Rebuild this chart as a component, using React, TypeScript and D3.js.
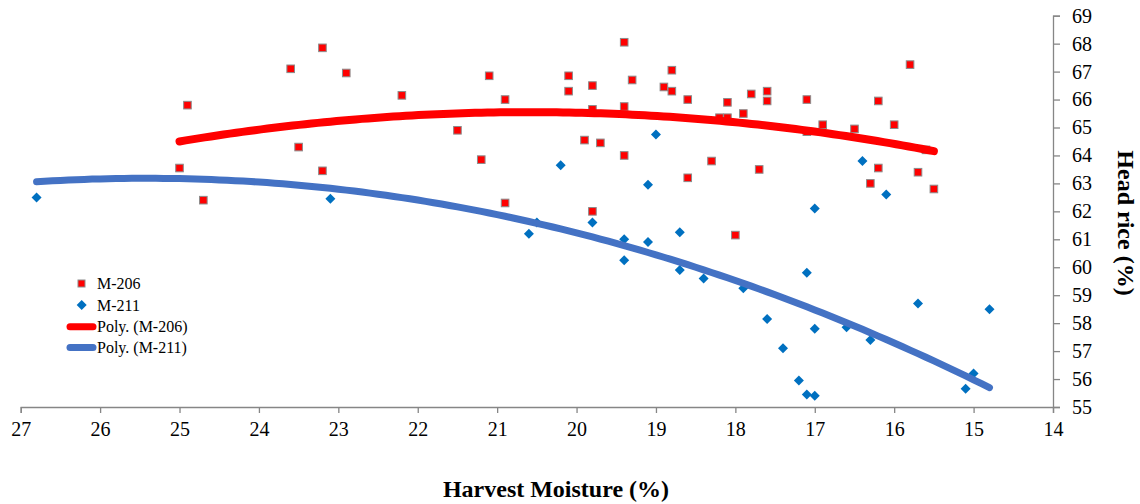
import { useEffect, useRef } from "react";
import * as d3 from "d3";

// M-206 (red squares): [harvest moisture, head rice]
const m206: [number, number][] = [
  [25.0, 63.55], [24.9, 65.8], [24.7, 62.4], [23.6, 67.1], [23.5, 64.3],
  [23.2, 67.85], [23.2, 63.45], [22.9, 66.95], [22.2, 66.15], [21.5, 64.9],
  [21.2, 63.85], [21.1, 66.85], [20.9, 66.0], [20.9, 62.3], [20.1, 66.85],
  [20.1, 66.3], [19.9, 64.55], [19.8, 66.5], [19.8, 65.65], [19.8, 62.0],
  [19.7, 64.45], [19.4, 68.05], [19.4, 65.75], [19.4, 64.0], [19.3, 66.7],
  [18.9, 66.45], [18.8, 67.05], [18.8, 66.3], [18.6, 66.0], [18.6, 63.2],
  [18.3, 63.8], [18.2, 65.35], [18.1, 65.9], [18.1, 65.35], [18.0, 61.15],
  [17.9, 65.5], [17.8, 66.2], [17.7, 63.5], [17.6, 66.3], [17.6, 65.95],
  [17.1, 66.0], [17.1, 64.85], [16.9, 65.1], [16.5, 64.95], [16.3, 63.0],
  [16.2, 65.95], [16.2, 63.55], [16.0, 65.1], [15.8, 67.25], [15.7, 63.4],
  [15.6, 64.2], [15.5, 62.8],
];

// M-211 (blue diamonds)
const m211: [number, number][] = [
  [26.8, 62.5], [23.1, 62.45], [20.6, 61.2], [20.5, 61.6], [20.2, 63.65],
  [19.8, 61.6], [19.4, 61.0], [19.4, 60.25], [19.1, 62.95], [19.1, 60.9],
  [19.0, 64.75], [18.7, 61.25], [18.7, 59.9], [18.4, 59.6], [17.9, 59.25],
  [17.6, 58.15], [17.4, 57.1], [17.2, 55.95], [17.1, 59.8], [17.1, 55.45],
  [17.0, 62.1], [17.0, 57.8], [17.0, 55.4], [16.6, 57.85], [16.4, 63.8],
  [16.3, 57.4], [16.1, 62.6], [15.7, 58.7], [15.1, 55.65], [15.0, 56.2],
  [14.8, 58.5],
];

// Poly. trendlines, points
const trend206: [number, number][] = [
  [25.0, 64.5], [23.5, 65.08], [22.5, 65.35], [21.8, 65.49], [20.5, 65.56],
  [19.4, 65.47], [18.4, 65.29], [17.8, 65.14], [17.1, 64.88], [16.3, 64.5],
  [15.5, 64.2],
];
const trend211: [number, number][] = [
  [26.8, 63.08], [25.75, 63.2], [25.0, 63.19], [24.1, 63.0], [23.1, 62.77],
  [22.5, 62.6], [21.8, 62.34], [20.5, 61.57], [19.4, 60.79], [18.1, 59.68],
  [17.1, 58.6], [16.3, 57.6], [15.4, 56.6], [14.8, 55.62],
];

const xTicks = [27, 26, 25, 24, 23, 22, 21, 20, 19, 18, 17, 16, 15, 14];
const yTicks = [55, 56, 57, 58, 59, 60, 61, 62, 63, 64, 65, 66, 67, 68, 69];

const legendItems = ["M-206", "M-211", "Poly. (M-206)", "Poly. (M-211)"];

const FONT = "'Liberation Serif', 'Times New Roman', serif";

// order-2 least squares, so the read trend points give a smooth parabola
function quadFit(pts: [number, number][]) {
  const s = [0, 0, 0, 0, 0];
  const t = [0, 0, 0];
  pts.forEach(([x, y]) => {
    for (let k = 0; k < 5; k++) s[k] += Math.pow(x, k);
    for (let k = 0; k < 3; k++) t[k] += Math.pow(x, k) * y;
  });
  const m = [
    [s[0], s[1], s[2], t[0]],
    [s[1], s[2], s[3], t[1]],
    [s[2], s[3], s[4], t[2]],
  ];
  for (let i = 0; i < 3; i++) {
    for (let j = i + 1; j < 3; j++) {
      const f = m[j][i] / m[i][i];
      for (let k = i; k < 4; k++) m[j][k] -= f * m[i][k];
    }
  }
  const c = [0, 0, 0];
  for (let i = 2; i >= 0; i--) {
    let v = m[i][3];
    for (let k = i + 1; k < 3; k++) v -= m[i][k] * c[k];
    c[i] = v / m[i][i];
  }
  return (x: number) => c[0] + c[1] * x + c[2] * x * x;
}

export default function App() {
  const svgRef = useRef<SVGSVGElement>(null);

  useEffect(() => {
    if (!svgRef.current) return;
    const svg = d3.select(svgRef.current);
    svg.selectAll("*").remove();

    const x = d3.scaleLinear().domain([27, 14]).range([20.7, 1053]);
    const y = d3.scaleLinear().domain([55, 69]).range([407, 15.7]);

    // x axis
    const gx = svg
      .append("g")
      .attr("transform", `translate(0,${y(55)})`)
      .call(d3.axisBottom(x).tickValues(xTicks).tickSize(6).tickPadding(9).tickFormat(d3.format("d")));
    gx.select(".domain").attr("stroke", "#868686").attr("stroke-width", 1.3);
    gx.selectAll(".tick line").attr("stroke", "#868686").attr("stroke-width", 1.3);
    gx.selectAll("text").attr("font-family", FONT).attr("font-size", 20).attr("fill", "#000");

    // y axis on the right
    const gy = svg
      .append("g")
      .attr("transform", `translate(${x(14)},0)`)
      .call(d3.axisRight(y).tickValues(yTicks).tickSize(7).tickPadding(12).tickFormat(d3.format("d")));
    gy.select(".domain").attr("stroke", "#868686").attr("stroke-width", 1.3);
    gy.selectAll(".tick line").attr("stroke", "#868686").attr("stroke-width", 1.3);
    gy.selectAll("text").attr("font-family", FONT).attr("font-size", 20).attr("fill", "#000");

    // markers
    svg
      .append("g")
      .selectAll("rect")
      .data(m206)
      .join("rect")
      .attr("x", (d) => x(d[0]) - 3.8)
      .attr("y", (d) => y(d[1]) - 3.8)
      .attr("width", 7.6)
      .attr("height", 7.6)
      .attr("fill", "#ff0000")
      .attr("stroke", "#8c8c8c")
      .attr("stroke-width", 1);

    const diamond = "M0,-5L5,0L0,5L-5,0Z";
    svg
      .append("g")
      .selectAll("path")
      .data(m211)
      .join("path")
      .attr("transform", (d) => `translate(${x(d[0])},${y(d[1])})`)
      .attr("d", diamond)
      .attr("fill", "#0070c0");

    // trendlines
    const trend = (pts: [number, number][], color: string, w: number) => {
      const f = quadFit(pts);
      const [lo, hi] = d3.extent(pts, (d) => d[0]) as [number, number];
      const xs = d3.range(0, 121).map((i) => lo + ((hi - lo) * i) / 120);
      const line = d3
        .line<number>()
        .x((v) => x(v))
        .y((v) => y(f(v)));
      svg
        .append("path")
        .datum(xs)
        .attr("fill", "none")
        .attr("stroke", color)
        .attr("stroke-width", w)
        .attr("stroke-linecap", "round")
        .attr("d", line);
    };
    trend(trend206, "#ff0000", 8);
    trend(trend211, "#4472c4", 7);

    // legend
    const lg = svg.append("g").attr("font-family", FONT).attr("font-size", 16);
    const rowY = [283.5, 305, 326.7, 347.5];
    lg.append("rect")
      .attr("x", 78)
      .attr("y", rowY[0] - 3.5)
      .attr("width", 7)
      .attr("height", 7)
      .attr("fill", "#ff0000")
      .attr("stroke", "#8c8c8c");
    lg.append("path")
      .attr("transform", `translate(81.7,${rowY[1]})`)
      .attr("d", diamond)
      .attr("fill", "#0070c0");
    lg.append("line")
      .attr("x1", 70).attr("x2", 93)
      .attr("y1", rowY[2]).attr("y2", rowY[2])
      .attr("stroke", "#ff0000").attr("stroke-width", 7).attr("stroke-linecap", "round");
    lg.append("line")
      .attr("x1", 70).attr("x2", 93)
      .attr("y1", rowY[3]).attr("y2", rowY[3])
      .attr("stroke", "#4472c4").attr("stroke-width", 7).attr("stroke-linecap", "round");
    legendItems.forEach((t, i) => {
      lg.append("text")
        .attr("x", 97)
        .attr("y", rowY[i])
        .attr("dy", "0.35em")
        .text(t);
    });

    // axis titles
    svg
      .append("text")
      .attr("x", 556)
      .attr("y", 497)
      .attr("text-anchor", "middle")
      .attr("font-family", FONT)
      .attr("font-size", 24)
      .attr("font-weight", "bold")
      .text("Harvest Moisture (%)");

    svg
      .append("text")
      .attr("transform", `translate(1118,223) rotate(90)`)
      .attr("text-anchor", "middle")
      .attr("font-family", FONT)
      .attr("font-size", 24)
      .attr("font-weight", "bold")
      .text("Head rice (%)");
  }, []);

  return (
    <div style={{ position: "absolute", left: 0, top: 0 }}>
      <svg ref={svgRef} width={1140} height={504} style={{ display: "block" }} />
    </div>
  );
}
